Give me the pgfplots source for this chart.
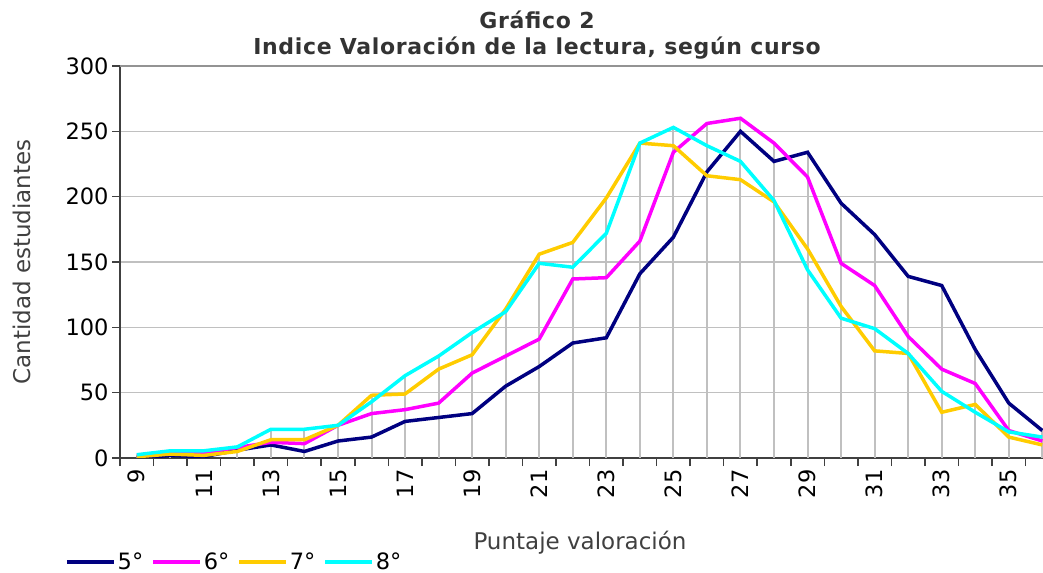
\documentclass[border=0pt]{standalone}
\usepackage{pgfplots}
\usepackage{pgfplotstable}
\pgfplotsset{compat=1.18}
\usepackage{fontspec}
\setmainfont{DejaVu Sans}
\newfontfamily\titlefont[LetterSpace=3]{DejaVu Sans}
\definecolor{cNavy}{HTML}{000080}
\definecolor{cMag}{HTML}{FF00FF}
\definecolor{cYel}{HTML}{FFCC00}
\definecolor{cCyan}{HTML}{00FFFF}
\definecolor{cGrid}{HTML}{C0C0C0}
\definecolor{cAxis}{HTML}{404040}
\pgfplotstableread{
x  a    b    c    d
9  0    2    1    2.5
10 2    4    3    5.5
11 1    4    2    5.5
12 6    8    5    8.5
13 10   12   14   22
14 5    11   14   22
15 13   25   25   25
16 16   34   48   43
17 28   37   49   63
18 31   42   68   78
19 34   65   79   96
20 55   78   114  112
21 70   91   156  149
22 88   137  165  146
23 92   138  199  172
24 141  166  241  241
25 169  234  239  253
26 219  256  216  239
27 250  260  213  227
28 227  241  196  197
29 234  215  160  144
30 195  149  116  107
31 171  132  82   99
32 139  93   80   80
33 132  68   35   51
34 83   57   41   35
35 42   21   16   20
36 21   13   10   16
}\datatable
\begin{document}
\begin{tikzpicture}
\path[use as bounding box] (0,0) rectangle (1043bp,573bp);
\begin{axis}[
  at={(120bp,115bp)}, anchor=south west,
  scale only axis, width=924bp, height=392bp,
  xmin=8.5, xmax=36.05, ymin=0, ymax=300,
  axis lines*=left,
  axis line style={cAxis, line width=1.5bp},
  clip=true,
  font=\fontsize{22.5bp}{26bp}\selectfont,
  /pgf/number format/assume math mode=true,
  xtick={9,11,...,35},
  minor xtick={8.5,9.5,...,35.5},
  major x tick style={draw=none},
  minor x tick style={cAxis, line width=1.5bp},
  minor tick length=8bp,
  ytick={0,50,...,250},
  extra y ticks={300},
  extra y tick style={major grid style={color=gray!85, line width=1.5bp}},
  y tick style={cAxis, line width=1.5bp},
  major tick length=8bp,
  tick align=outside,
  ymajorgrids,
  grid style={cGrid, line width=1.5bp},
  xticklabel style={rotate=90, anchor=east},
  legend style={at={(-0.0595,-0.265)}, anchor=west, draw=none, fill=none,
    inner sep=0pt, font=\fontsize{22.5bp}{26bp}\selectfont,
    /tikz/every even column/.append style={column sep=6bp}},
  legend columns=4,
  legend cell align=left,
  legend image code/.code={\draw[#1,line width=3.5bp] (0bp,0bp) -- (47bp,0bp);},
]
\addplot[ycomb, cGrid, line width=2bp, forget plot] table[x=x, y expr={max(\thisrow{a},\thisrow{b},\thisrow{c},\thisrow{d})}] {\datatable};
\addplot[cNavy, line width=3.5bp] table[x=x,y=a] {\datatable};
\addplot[cMag, line width=3.5bp] table[x=x,y=b] {\datatable};
\addplot[cYel, line width=3.5bp] table[x=x,y=c] {\datatable};
\addplot[cCyan, line width=3.5bp] table[x=x,y=d] {\datatable};
\legend{5°,6°,7°,8°}
\end{axis}
\node[font=\titlefont\fontsize{22bp}{26bp}\selectfont\bfseries, text=black!80] at (537bp,553bp) {Gráfico 2};
\node[font=\titlefont\fontsize{22bp}{26bp}\selectfont\bfseries, text=black!80] at (537bp,525bp) {Indice Valoración de la lectura, según curso};
\node[font=\fontsize{23bp}{27bp}\selectfont, text=cAxis, rotate=90] at (22bp,311bp) {Cantidad estudiantes};
\node[font=\fontsize{23bp}{27bp}\selectfont, text=cAxis] at (580bp,30bp) {Puntaje valoración};
\end{tikzpicture}
\end{document}
